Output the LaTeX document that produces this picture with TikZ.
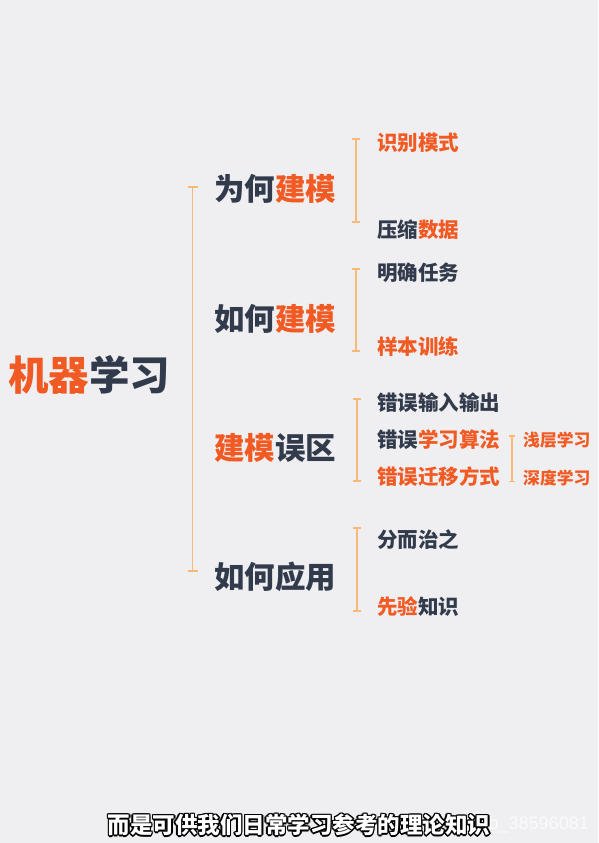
\documentclass[tikz,border=0pt]{standalone}
\usepackage{fontspec}
\setmainfont{Noto Sans CJK SC}
\newfontfamily\wmfont{Liberation Sans}
\usetikzlibrary{arrows.meta}
\definecolor{bg}{HTML}{EFEEF1}
\definecolor{ink}{HTML}{313B4B}
\definecolor{hot}{HTML}{F15A22}
\definecolor{rule}{HTML}{F8B878}
\newcommand{\hl}[1]{\textcolor{hot}{#1}}

\begin{document}
\begin{tikzpicture}[
  x=1pt, y=-1pt,
  root/.style={anchor=west, inner sep=0pt, text=ink,
               font=\fontsize{40.5}{41}\selectfont\bfseries},
  topic/.style={anchor=west, inner sep=0pt, text=ink,
                font=\fontsize{30.5}{31}\selectfont\bfseries},
  item/.style={anchor=west, inner sep=0pt, text=ink,
               font=\fontsize{20.5}{21}\selectfont\bfseries},
  leaf/.style={anchor=west, inner sep=0pt, text=hot,
               font=\fontsize{16.8}{17}\selectfont\bfseries},
  brk/.style={draw=rule, line width=1.8pt, {Bar[width=10pt]}-{Bar[width=10pt]}},
  subbrk/.style={draw=rule, line width=1.6pt, {Bar[width=8pt]}-{Bar[width=8pt]}},
  leafbrk/.style={draw=rule, line width=1.5pt, {Bar[width=6pt]}-{Bar[width=6pt]}},
  sub/.style={inner sep=0pt, font=\fontsize{22.5}{23}\selectfont\bfseries}
]
  % background
  \fill[bg] (0,0) rectangle (598,843);
  \useasboundingbox (0,0) rectangle (598,843);

  % root
  \node[root] (ml) at (8,375) {\hl{机器}学习};
  \coordinate (m1) at (192.5,186);
  \coordinate (m2) at (192.5,572);
  \draw[brk] (m1) -- (m2);

  % topics
  \node[topic] (why)  at (214,189) {为何\hl{建模}};
  \node[topic] (how)  at (214,319) {如何\hl{建模}};
  \node[topic] (trap) at (214,448) {\hl{建模}误区};
  \node[topic] (use)  at (214,577) {如何应用};

  % why
  \coordinate (w1) at (356,138);
  \coordinate (w2) at (356,223);
  \draw[subbrk] (w1) -- (w2);
  \node[item, text=hot] (pattern) at (377,143) {识别模式};
  \node[item] (compress) at (377,229.5) {压缩\hl{数据}};

  % how
  \coordinate (h1) at (356,268);
  \coordinate (h2) at (356,352);
  \draw[subbrk] (h1) -- (h2);
  \node[item] (task) at (377,273) {明确任务};
  \node[item, text=hot] (train) at (377,346.5) {样本训练};

  % traps
  \coordinate (t1) at (357,398);
  \coordinate (t2) at (357,482);
  \draw[subbrk] (t1) -- (t2);
  \node[item] (io) at (377,403) {错误输入输出};
  \node[item] (algo) at (377,440) {错误\hl{学习算法}};
  \node[item, text=hot] (transfer) at (377,477) {错误迁移方式};

  \coordinate (a1) at (512,435);
  \coordinate (a2) at (512,482);
  \draw[leafbrk] (a1) -- (a2);
  \node[leaf] (shallow) at (523,440) {浅层学习};
  \node[leaf] (deep) at (523,478) {深度学习};

  % use
  \coordinate (u1) at (357,527);
  \coordinate (u2) at (357,612);
  \draw[subbrk] (u1) -- (u2);
  \node[item] (divide) at (377,540) {分而治之};
  \node[item] (prior) at (377,607) {\hl{先验}知识};

  % watermark and subtitle
  \node[anchor=east, inner sep=0pt, text=white, opacity=0.75,
        font=\wmfont\fontsize{18}{18}\selectfont] (mark) at (589,825) {ub\_38596081};
  \foreach \dx/\dy [count=\k] in {-1.7/0,1.7/0,0/-1.7,0/1.7,-1.2/-1.2,1.2/-1.2,-1.2/1.2,1.2/1.2}
    \node[sub, text=black] (shade\k) at (299+\dx,825+\dy) {而是可供我们日常学习参考的理论知识};
  \node[sub, text=white] (caption) at (299,825) {而是可供我们日常学习参考的理论知识};
\end{tikzpicture}
\end{document}
